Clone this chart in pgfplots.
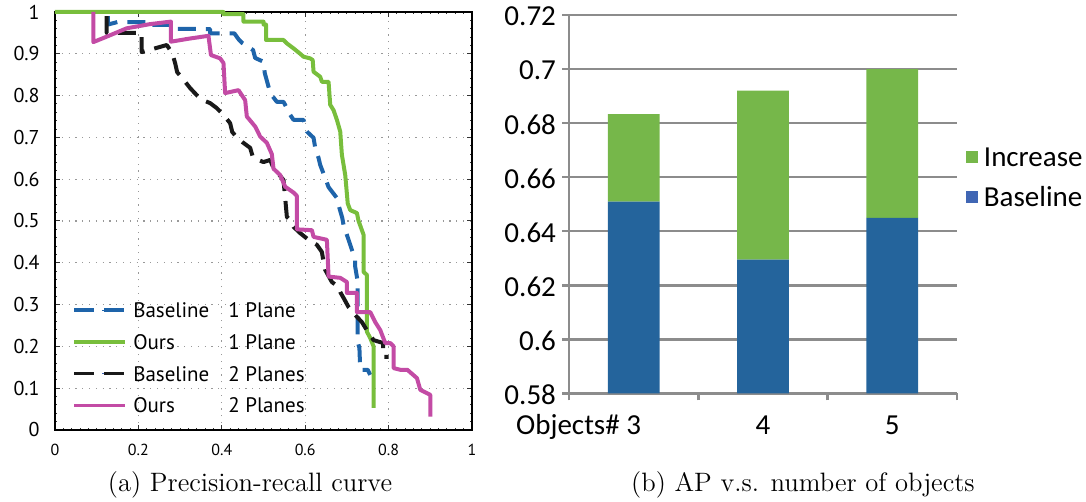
\documentclass[border=0pt]{standalone}
\usepackage{pgfplots}
\pgfplotsset{compat=1.18}
\usepackage{fontspec}
\newfontfamily\ptsans{PT Sans}
\newfontfamily\carlito{Carlito}
\definecolor{cblue}{RGB}{30,100,170}
\definecolor{cgreen}{RGB}{120,190,60}
\definecolor{cblack}{RGB}{25,25,25}
\definecolor{cpink}{RGB}{195,75,165}
\definecolor{bblue}{RGB}{36,100,156}
\definecolor{bgreen}{RGB}{118,183,74}
\definecolor{lblue}{RGB}{64,102,180}
\definecolor{gridgray}{RGB}{140,140,140}
\begin{document}
\begin{tikzpicture}
\useasboundingbox (0,0) rectangle (543pt,251pt);
\begin{axis}[
  at={(27.5pt,36pt)}, anchor=south west, scale only axis,
  width=208.5pt, height=209pt,
  xmin=0,xmax=1,ymin=0,ymax=1, clip=false,
  xtick={0,0.2,0.4,0.6,0.8,1}, xticklabels={0,0.2,0.4,0.6,0.8,1},
  ytick={0,0.1,0.2,0.3,0.4,0.5,0.6,0.7,0.8,0.9,1},
  yticklabels={0,0.1,0.2,0.3,0.4,0.5,0.6,0.7,0.8,0.9,1},
  minor x tick num=9, minor y tick num=4,
  major tick length=2.5pt, minor tick length=1.2pt,
  tick style={black!80, line width=0.5pt},
  grid=major, grid style={gray!80, line width=0.6pt, dash pattern=on 0.6pt off 2.8pt},
  axis line style={black, line width=0.7pt},
  xticklabel style={font=\ptsans\fontsize{8}{9.6}\selectfont, anchor=base, yshift=-13pt},
  yticklabel style={font=\ptsans\fontsize{10}{12}\selectfont, anchor=east, inner sep=0pt, xshift=-7.5pt},
  legend style={draw=none, fill=none, inner sep=0pt, outer sep=0pt,
    at={(0.0424,0.325)}, anchor=north west,
    font=\ptsans\fontsize{10.5}{12}\selectfont, row sep=0pt,
    nodes={inner sep=0pt, text height=11.65pt, text depth=4.25pt},
    /tikz/every odd column/.append style={column sep=3.3pt}},
  legend cell align=left,
  every axis plot/.append style={line width=2pt, line join=round},
]
\addplot[cblue, dash pattern=on 9pt off 5pt,
  legend image code/.code={\draw[cblue, line width=0.4pt] (0pt,0pt) -- (25.3pt,0pt);
    \draw[cblue, dash pattern=on 10pt off 5pt, line width=1.7pt] (0pt,0pt) -- (25.3pt,0pt);}]
 coordinates {(0.127,0.99) (0.127,0.97) (0.15,0.976) (0.22,0.976) (0.22,0.969) (0.276,0.969) (0.28,0.96) (0.372,0.959) (0.372,0.949) (0.43,0.949) (0.44,0.935) (0.45,0.925) (0.475,0.909) (0.48,0.89) (0.5,0.881) (0.503,0.854) (0.511,0.825) (0.516,0.806) (0.532,0.785) (0.548,0.785) (0.556,0.77) (0.564,0.754) (0.572,0.742) (0.596,0.742) (0.604,0.714) (0.62,0.699) (0.624,0.675) (0.632,0.651) (0.636,0.634) (0.648,0.603) (0.656,0.581) (0.676,0.555) (0.68,0.538) (0.689,0.507) (0.692,0.49) (0.704,0.455) (0.708,0.443) (0.72,0.407) (0.72,0.39) (0.726,0.354) (0.726,0.211) (0.73,0.196) (0.732,0.144) (0.75,0.144) (0.756,0.132)};
\addlegendentry{\makebox[47.5pt][l]{Baseline}1 Plane}
\addplot[cgreen,
  legend image code/.code={\draw[cgreen, line width=1.7pt] (0pt,0pt) -- (25.3pt,0pt);}]
 coordinates {(0,1) (0.404,1) (0.404,0.995) (0.452,0.995) (0.452,0.977) (0.50,0.977) (0.50,0.97) (0.506,0.97) (0.506,0.933) (0.548,0.933) (0.556,0.925) (0.572,0.913) (0.588,0.90) (0.596,0.893) (0.612,0.889) (0.618,0.885) (0.62,0.857) (0.636,0.845) (0.64,0.833) (0.656,0.833) (0.66,0.778) (0.668,0.765) (0.676,0.742) (0.684,0.714) (0.688,0.658) (0.696,0.61) (0.702,0.542) (0.708,0.526) (0.724,0.519) (0.728,0.50) (0.74,0.467) (0.74,0.378) (0.748,0.371) (0.748,0.235) (0.756,0.22) (0.764,0.2) (0.764,0.053)};
\addlegendentry{\makebox[47.5pt][l]{Ours}1 Plane}
\addplot[cblack, dash pattern=on 9pt off 5pt,
  legend image code/.code={\draw[lblue, line width=0.4pt] (0pt,0pt) -- (25.3pt,0pt);
    \draw[cblack, dash pattern=on 10pt off 5pt, line width=1.7pt] (0pt,0pt) -- (25.3pt,0pt);}]
 coordinates {(0.124,0.99) (0.124,0.95) (0.208,0.95) (0.208,0.904) (0.268,0.921) (0.281,0.902) (0.288,0.878) (0.293,0.856) (0.305,0.842) (0.324,0.818) (0.34,0.801) (0.355,0.789) (0.372,0.782) (0.388,0.77) (0.404,0.754) (0.42,0.734) (0.425,0.713) (0.437,0.699) (0.449,0.689) (0.468,0.675) (0.475,0.651) (0.5,0.641) (0.516,0.646) (0.523,0.629) (0.548,0.598) (0.552,0.555) (0.556,0.51) (0.564,0.502) (0.572,0.486) (0.588,0.471) (0.608,0.455) (0.628,0.443) (0.64,0.426) (0.644,0.402) (0.648,0.383) (0.664,0.354) (0.68,0.342) (0.684,0.33) (0.692,0.316) (0.704,0.294) (0.72,0.275) (0.736,0.258) (0.752,0.232) (0.764,0.215) (0.787,0.208) (0.787,0.175) (0.8,0.175)};
\addlegendentry{\makebox[47.5pt][l]{Baseline}2 Planes}
\addplot[cpink,
  legend image code/.code={\draw[cpink, line width=1.7pt] (0pt,0pt) -- (25.3pt,0pt);}]
 coordinates {(0.092,1.0) (0.092,0.928) (0.124,0.941) (0.172,0.961) (0.228,0.971) (0.278,0.977) (0.278,0.929) (0.32,0.936) (0.368,0.943) (0.374,0.897) (0.396,0.889) (0.404,0.878) (0.408,0.806) (0.44,0.813) (0.456,0.789) (0.46,0.75) (0.48,0.726) (0.492,0.702) (0.508,0.687) (0.52,0.66) (0.524,0.625) (0.54,0.61) (0.552,0.582) (0.572,0.568) (0.58,0.56) (0.58,0.48) (0.616,0.478) (0.62,0.462) (0.652,0.455) (0.656,0.367) (0.684,0.364) (0.7,0.354) (0.7,0.328) (0.724,0.328) (0.724,0.282) (0.756,0.282) (0.768,0.258) (0.78,0.239) (0.792,0.208) (0.804,0.208) (0.812,0.2) (0.812,0.148) (0.828,0.144) (0.845,0.144) (0.868,0.124) (0.876,0.096) (0.9,0.084) (0.9,0.032)};
\addlegendentry{\makebox[47.5pt][l]{Ours}2 Planes}
\end{axis}
\begin{axis}[
  at={(284.5pt,54.25pt)}, anchor=south west, scale only axis,
  width=194pt, height=189.25pt,
  ybar stacked, bar width=25.85pt,
  xmin=-0.5,xmax=2.5, ymin=0.58,ymax=0.72,
  axis x line*=bottom, axis y line*=left,
  axis line style={-, gridgray, line width=1.2pt},
  xtick={-0.5,0.5,1.5,2.5}, xticklabels={},
  extra x ticks={0,1,2}, extra x tick labels={{\llap{Objects\#\ }3},4,5},
  extra x tick style={major tick length=0pt, tick style={draw=none}},
  ytick={0.58,0.6,0.62,0.64,0.66,0.68,0.7,0.72},
  yticklabels={0.58,0.6,0.62,0.64,0.66,0.68,0.7,0.72},
  tick align=outside, major tick length=3.5pt,
  tick style={gridgray, line width=1.2pt},
  ymajorgrids, grid style={gridgray, line width=1.2pt},
  xticklabel style={font=\carlito\fontsize{14.5}{17}\selectfont, anchor=base, yshift=-20.4pt},
  yticklabel style={font=\carlito\fontsize{14.5}{17}\selectfont, anchor=east, inner sep=0pt, xshift=-2.85pt, yshift=-0.75pt},
  reverse legend,
  legend style={draw=none, fill=none, inner sep=0pt, outer sep=0pt,
    at={(1.022,0.6784)}, anchor=north west,
    font=\carlito\fontsize{14.5}{17}\selectfont, row sep=0pt,
    nodes={inner sep=0pt, text height=14.65pt, text depth=5.35pt},
    /tikz/every odd column/.append style={column sep=3.2pt}},
  legend cell align=left,
]
\addplot[fill=bblue, draw=none,
  legend image code/.code={\fill[lblue] (0pt,-3pt) rectangle (6pt,3pt);}]
  coordinates {(0,0.651) (1,0.6295) (2,0.645)};
\addlegendentry{Baseline}
\addplot[fill=bgreen, draw=none,
  legend image code/.code={\fill[bgreen] (0pt,-3pt) rectangle (6pt,3pt);}]
  coordinates {(0,0.0323) (1,0.0625) (2,0.055)};
\addlegendentry{Increase}
\end{axis}
\node[anchor=base, font=\fontsize{13.3}{15}\selectfont] at (125pt,5.15pt) {(a) Precision-recall curve};
\node[anchor=base, font=\fontsize{13.3}{15}\selectfont] at (401.5pt,5.15pt) {(b) AP v.s. number of objects};
\end{tikzpicture}
\end{document}
